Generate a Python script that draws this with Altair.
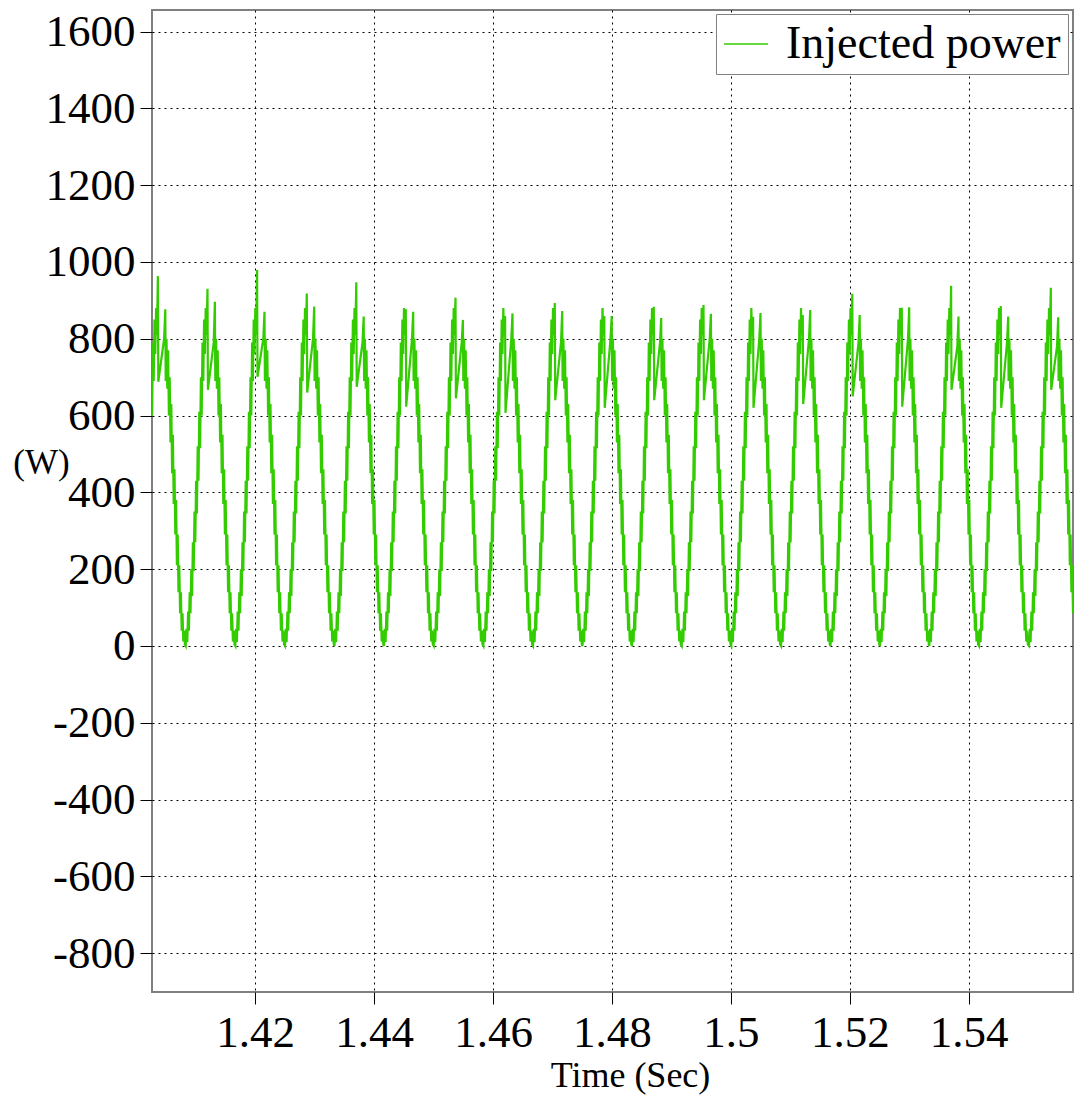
import altair as alt
import pandas as pd

# ---- data ----
SERIES = "Injected power"
# times (s) of the zero-power minima of each 120 Hz cycle (first one is before the visible window)
CYCLE_MIN_TIMES = [1.399970, 1.408311, 1.416653, 1.425012, 1.433337, 1.441661, 1.450020,
                   1.458362, 1.466721, 1.475045, 1.483370, 1.491729, 1.500071, 1.508429,
                   1.516754, 1.525079, 1.533370, 1.541729, 1.550138, 1.558463]
# rising edge (ms after a minimum) and power (W)
RISE_MS = [0.000, 0.135, 0.269, 0.404, 0.538, 0.673, 0.807, 0.942, 1.076, 1.211, 1.345, 1.480,
           1.615, 1.749, 1.884, 2.018, 2.153, 2.287, 2.422, 2.556, 2.691, 2.825, 2.960, 3.095,
           3.229, 3.364, 3.498]
RISE_W = [0, 45, 10, 90, 40, 140, 85, 200, 130, 270, 195, 350, 270, 430, 345, 520, 430, 610,
          515, 700, 600, 790, 690, 850, 760, 880, 810]
# peak region: first spike, dip, plateau, second spike
PEAK_MS = [3.666, 3.734, 4.709, 4.911]
SPIKE1_W = [963, 930, 979, 918, 947, 877, 907, 859, 893, 859, 883, 888, 857, 862, 917, 881, 938, 885, 933]
DIP_W = [688, 667, 701, 660, 675, 623, 645, 607, 640, 620, 640, 640, 620, 630, 650, 623, 667, 620, 667]
PLATEAU_W = [800, 790, 800, 800, 790, 800, 790, 800, 790, 800, 790, 800, 800, 800, 790, 800, 780, 790, 780]
SPIKE2_W = [877, 896, 870, 884, 858, 870, 849, 866, 872, 859, 854, 865, 867, 875, 862, 882, 858, 858, 856]
# falling edge
FALL_MS = [4.978, 5.113, 5.247, 5.382, 5.516, 5.651, 5.785, 5.920, 6.054, 6.189, 6.324, 6.458,
           6.593, 6.727, 6.862, 6.996, 7.131, 7.265, 7.400, 7.534, 7.669, 7.804, 7.938, 8.073, 8.207]
FALL_W = [690, 800, 670, 770, 600, 700, 530, 630, 450, 550, 370, 460, 290, 380, 210, 290, 140,
          210, 85, 140, 40, 85, 12, 40, 4]

X_TICKS = [1.42, 1.44, 1.46, 1.48, 1.5, 1.52, 1.54]
Y_TICKS = [-800, -600, -400, -200, 0, 200, 400, 600, 800, 1000, 1200, 1400, 1600]
X_DOMAIN = [1.402644, 1.557537]
Y_DOMAIN = [-901, 1656]

GREEN = "#33cc00"
FONT = "Liberation Serif"

rows = []
for k in range(len(SPIKE1_W)):
    t0 = CYCLE_MIN_TIMES[k]
    for ms, w in zip(RISE_MS, RISE_W):
        rows.append((t0 + ms / 1000.0, w))
    for ms, w in zip(PEAK_MS, [SPIKE1_W[k], DIP_W[k], PLATEAU_W[k], SPIKE2_W[k]]):
        rows.append((t0 + ms / 1000.0, w))
    for ms, w in zip(FALL_MS, FALL_W):
        rows.append((t0 + ms / 1000.0, w))
rows.append((CYCLE_MIN_TIMES[-1], 0))

df = pd.DataFrame(rows, columns=["t", "p"])
df["series"] = SERIES

chart = alt.Chart(df).mark_line(clip=True, strokeWidth=2.2).encode(
    x=alt.X("t:Q",
            scale=alt.Scale(domain=X_DOMAIN, nice=False, zero=False),
            axis=alt.Axis(values=X_TICKS, labelExpr="toString(datum.value)",
                          title="Time (Sec)", titleX=478, titleY=94,
                          titleAlign="center", titleBaseline="alphabetic",
                          titleFontSize=36, labelFontSize=45,
                          labelBaseline="alphabetic", labelPadding=42)),
    y=alt.Y("p:Q",
            scale=alt.Scale(domain=Y_DOMAIN, nice=False, zero=False),
            axis=alt.Axis(values=Y_TICKS, labelExpr="toString(datum.value)",
                          title="(W)", titleAngle=0, titleX=-111, titleY=452,
                          titleAlign="center", titleBaseline="middle",
                          titleFontSize=35, labelFontSize=45, labelPadding=5,
                          labelBaseline="middle")),
    color=alt.Color("series:N", scale=alt.Scale(range=[GREEN]),
                    legend=alt.Legend(title=None, orient="none", legendX=564, legendY=4,
                                      padding=7, strokeColor="#808080", fillColor="white",
                                      labelFont=FONT, labelFontSize=46, labelColor="black",
                                      labelLimit=0, labelOffset=17,
                                      symbolType="stroke", symbolSize=1936,
                                      symbolStrokeWidth=1.5)),
).properties(
    width=921, height=982,
    padding={"left": 152, "top": 10, "right": 2, "bottom": 103},
    autosize=alt.AutoSizeParams(type="none"),
).configure_view(
    stroke="#808080", strokeWidth=2
).configure_axis(
    domain=False, grid=True, gridColor="black", gridDash=[2, 4], gridWidth=1, gridOpacity=1,
    tickColor="black", tickSize=12, tickWidth=1,
    labelFont=FONT, labelColor="black", titleFont=FONT, titleColor="black",
    titleFontWeight="normal"
)

chart.save("out.html", embed_options={"renderer": "svg", "actions": False})
